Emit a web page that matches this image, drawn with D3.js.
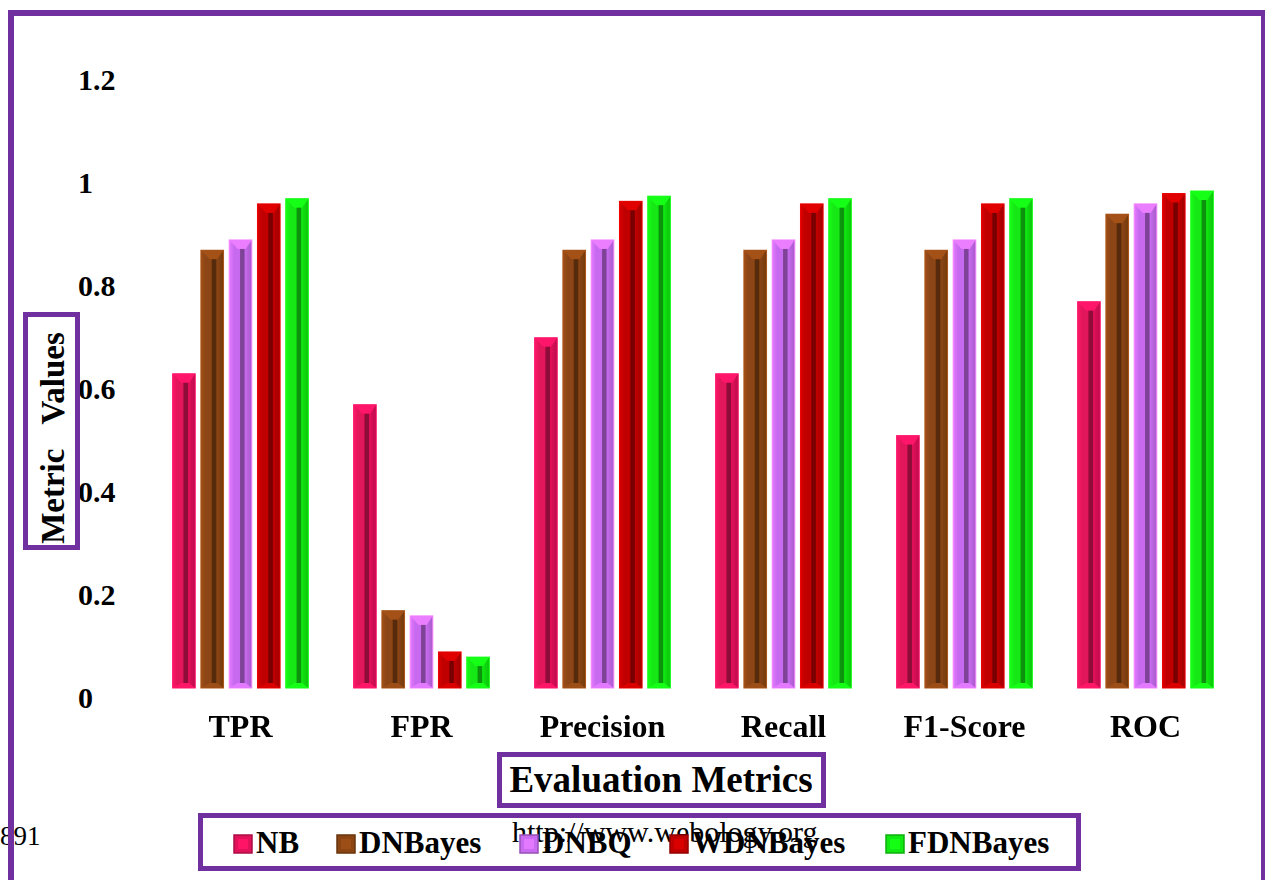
<!DOCTYPE html>
<html>
<head>
<meta charset="utf-8">
<script src="https://cdn.jsdelivr.net/npm/d3@7"></script>
<style>
  html, body { margin: 0; padding: 0; background: #ffffff; }
  svg { display: block; }
  text { font-family: "Liberation Serif", "Times New Roman", serif; }
</style>
</head>
<body>
<svg id="chart" width="1265" height="880"></svg>
<script>
// Metric categories along the x axis
const categories = ["TPR", "FPR", "Precision", "Recall", "F1-Score", "ROC"];
// Classifier names
const seriesNames = ["NB", "DNBayes", "DNBQ", "WDNBayes", "FDNBayes"];
// Metric values per classifier, one entry per category
const nbValues       = [0.61, 0.55, 0.68, 0.61, 0.49, 0.75];
const dnbayesValues  = [0.85, 0.15, 0.85, 0.85, 0.85, 0.92];
const dnbqValues     = [0.87, 0.14, 0.87, 0.87, 0.87, 0.94];
const wdnbayesValues = [0.94, 0.07, 0.945, 0.94, 0.94, 0.96];
const fdnbayesValues = [0.95, 0.06, 0.955, 0.95, 0.95, 0.965];
// Y axis tick labels
const yTicks = [0, 0.2, 0.4, 0.6, 0.8, 1, 1.2];
const seriesColors = ["#e2125a", "#8b4513", "#c86bf0", "#c00000", "#12e812"];
const frameColor = "#7030a0";

const seriesValues = [nbValues, dnbayesValues, dnbqValues, wdnbayesValues, fdnbayesValues];
const rows = [];
categories.forEach((c, ci) => {
  seriesNames.forEach((s, si) => rows.push({ cat: c, series: s, si, value: seriesValues[si][ci] }));
});

const svg = d3.select("#chart");
const defs = svg.append("defs");

defs.append("filter").attr("id", "soft")
  .append("feGaussianBlur").attr("stdDeviation", 0.45);

// Horizontal shading gradient for each series to give the bars a rounded look
seriesColors.forEach((col, i) => {
  const c = d3.color(col);
  const g = defs.append("linearGradient").attr("id", "grad" + i)
    .attr("x1", "0%").attr("x2", "100%").attr("y1", "0%").attr("y2", "0%");
  g.append("stop").attr("offset", "0%").attr("stop-color", c.brighter(0.4));
  g.append("stop").attr("offset", "20%").attr("stop-color", c);
  g.append("stop").attr("offset", "70%").attr("stop-color", c);
  g.append("stop").attr("offset", "100%").attr("stop-color", c.darker(0.5));
});

const x = d3.scaleBand().domain(categories).range([150, 1236])
  .paddingInner(0.25).paddingOuter(0.125);
const xs = d3.scaleBand().domain(seriesNames).range([0, x.bandwidth()])
  .paddingInner(0.2);
const y = d3.scaleLinear().domain([0, 1.2]).range([688, 70]);

// Bars
const bars = svg.append("g").attr("filter", "url(#soft)")
  .selectAll("g.bar").data(rows).join("g").attr("class", "bar")
  .attr("transform", d => `translate(${x(d.cat) + xs(d.series)},0)`);

const bw = xs.bandwidth();
const capH = d => Math.min(9, (y(0) - y(d.value)) / 3);
const footH = d => Math.min(5, (y(0) - y(d.value)) / 4);

bars.append("rect")
  .attr("x", 0).attr("y", d => y(d.value))
  .attr("width", bw).attr("height", d => y(0) - y(d.value))
  .attr("fill", d => `url(#grad${d.si})`)
  .attr("stroke", d => d3.color(seriesColors[d.si]).brighter(0.6))
  .attr("stroke-width", 1);

// Bevelled top cap
bars.append("path")
  .attr("d", d => {
    const t = y(d.value), h = capH(d);
    return `M0,${t}L${bw},${t}L${bw * 0.72},${t + h}L${bw * 0.38},${t + h}Z`;
  })
  .attr("fill", d => d3.color(seriesColors[d.si]).brighter(0.45));

// Bevelled bottom edge
bars.append("path")
  .attr("d", d => {
    const b = y(0), h = footH(d);
    return `M0,${b}L${bw},${b}L${bw * 0.72},${b - h}L${bw * 0.38},${b - h}Z`;
  })
  .attr("fill", d => d3.color(seriesColors[d.si]).brighter(0.35));

// Dark inner groove
bars.append("rect")
  .attr("x", bw * 0.48).attr("width", bw * 0.2)
  .attr("y", d => y(d.value) + capH(d))
  .attr("height", d => Math.max(0, (y(0) - y(d.value)) - capH(d) - footH(d)))
  .attr("fill", d => d3.color(seriesColors[d.si]).darker(1.3));

// Y axis labels (no axis line)
const yAxis = svg.append("g")
  .call(d3.axisLeft(y).tickValues(yTicks).tickSize(0).tickFormat(d => String(d)));
yAxis.select(".domain").remove();
yAxis.selectAll("text")
  .attr("x", 78).attr("dy", 19)
  .attr("text-anchor", "start")
  .attr("fill", "#000")
  .style("font-family", "'Liberation Serif', serif")
  .style("font-size", "30px").style("font-weight", "bold");

// X axis category labels
const xAxis = svg.append("g").attr("transform", "translate(0,688)")
  .call(d3.axisBottom(x).tickSize(0));
xAxis.select(".domain").remove();
xAxis.selectAll("text")
  .attr("y", 49).attr("dy", 0)
  .attr("fill", "#000")
  .style("font-family", "'Liberation Serif', serif")
  .style("font-size", "32px").style("font-weight", "bold");

// Y axis title in a box
svg.append("rect").attr("x", 25.5).attr("y", 314.5).attr("width", 52).attr("height", 233)
  .attr("fill", "none").attr("stroke", frameColor).attr("stroke-width", 5);
svg.append("text")
  .attr("transform", "translate(64,438) rotate(-90)")
  .attr("text-anchor", "middle")
  .style("white-space", "pre")
  .style("font-size", "33px").style("font-weight", "bold")
  .text("Metric   Values");

// X axis title in a box
svg.append("rect").attr("x", 499.5).attr("y", 754.5).attr("width", 324).attr("height", 51)
  .attr("fill", "none").attr("stroke", frameColor).attr("stroke-width", 5);
svg.append("text")
  .attr("x", 661).attr("y", 792)
  .attr("text-anchor", "middle")
  .style("font-size", "37px").style("font-weight", "bold")
  .text("Evaluation Metrics");

// Page footer texts
svg.append("text").attr("x", 0).attr("y", 845)
  .style("font-size", "27px").text("891");
svg.append("text").attr("x", 512).attr("y", 842)
  .style("font-size", "30px").text("http://www.webology.org");

// Legend
svg.append("rect").attr("x", 200.5).attr("y", 815.5).attr("width", 878).attr("height", 53)
  .attr("fill", "none").attr("stroke", frameColor).attr("stroke-width", 5);
const legendX = [234, 337, 520, 670, 886];
const leg = svg.append("g").selectAll("g").data(seriesNames).join("g")
  .attr("transform", (d, i) => `translate(${legendX[i]},835)`);
leg.append("rect").attr("width", 18).attr("height", 18)
  .attr("fill", (d, i) => seriesColors[i])
  .attr("stroke", (d, i) => d3.color(seriesColors[i]).darker(0.8)).attr("stroke-width", 1.5);
leg.append("rect").attr("x", 4).attr("y", 4).attr("width", 10).attr("height", 10)
  .attr("fill", (d, i) => d3.color(seriesColors[i]).brighter(0.35));
leg.append("text").attr("x", 22).attr("y", 18)
  .style("font-size", "31px").style("font-weight", "bold")
  .text(d => d);

// Outer page frame
svg.append("rect").attr("x", 11).attr("y", 13).attr("width", 1253).attr("height", 900)
  .attr("fill", "none").attr("stroke", frameColor).attr("stroke-width", 6);
</script>
</body>
</html>
